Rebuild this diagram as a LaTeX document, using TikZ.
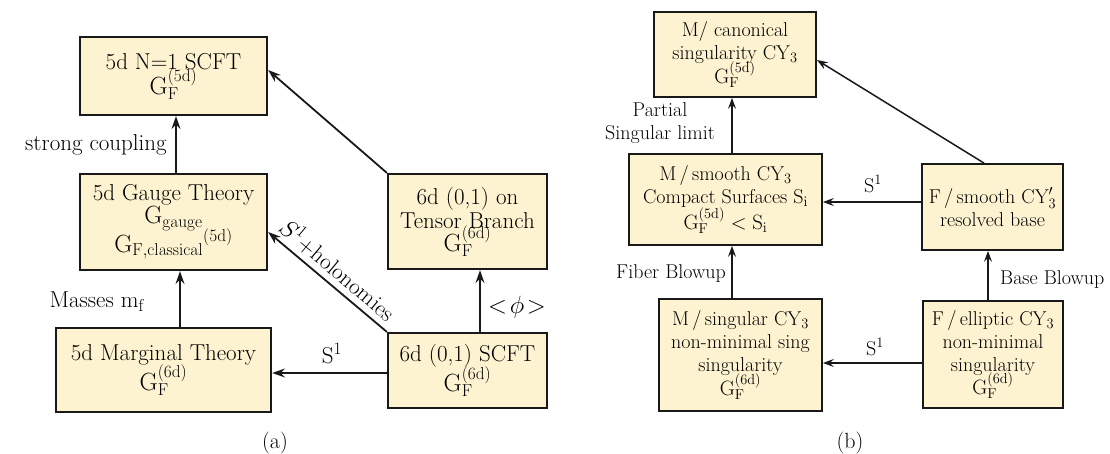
\documentclass[tikz,border=0pt]{standalone}
\usetikzlibrary{arrows.meta}
\definecolor{boxfill}{RGB}{253,243,208}
\definecolor{edge}{RGB}{25,25,25}
\newcommand{\GF}[1]{\mathrm{G}_\mathrm{F}^{(\mathrm{#1})}}
\begin{document}
\begin{tikzpicture}[x=1pt,y=-1pt,
  boxa/.style={draw=edge, line width=2.2pt, fill=boxfill, align=center, inner sep=0pt, font=\fontsize{23}{26}\selectfont},
  boxb/.style={draw=edge, line width=1.8pt, fill=boxfill, align=center, inner sep=0pt, font=\fontsize{20}{23}\selectfont},
  arra/.style={draw=edge, line width=1.8pt, -{Stealth[length=13pt,width=9pt,inset=4.5pt]}},
  arrb/.style={draw=edge, line width=1.5pt, -{Stealth[length=11pt,width=8pt,inset=4pt]}},
  laba/.style={font=\fontsize{23}{26}\selectfont, inner sep=0pt},
  labb/.style={font=\fontsize{20}{23}\selectfont, inner sep=0pt, align=center},
  capt/.style={font=\fontsize{22}{24}\selectfont, inner sep=0pt}
]
\useasboundingbox (0,0) rectangle (1110,454);

% ---------- panel (a) ----------
\node[boxa, minimum width=187pt, minimum height=78pt] (scft5) at (173.5,76)
  {5d N=1 SCFT\\[-2pt]$\GF{5d}$};
\node[boxa, minimum width=187pt, minimum height=96pt] (gauge) at (173.5,222)
  {5d Gauge Theory\\[-3pt]$\mathrm{G}_\mathrm{gauge}$\\[-3pt]${\mathrm{G}_\mathrm{F,classical}}^{(\mathrm{5d})}$};
\node[boxa, minimum width=215pt, minimum height=84pt] (marg) at (163.5,370)
  {5d Marginal Theory\\[-2pt]$\GF{6d}$};
\node[boxa, minimum width=159pt, minimum height=95pt] (tensor) at (467.5,221.5)
  {6d (0,1) on\\[-2pt]Tensor Branch\\[-4pt]$\GF{6d}$};
\node[boxa, minimum width=159pt, minimum height=75pt] (scft6) at (467.5,370.5)
  {6d (0,1) SCFT\\[-2pt]$\GF{6d}$};

\draw[arra] ([xshift=2.5pt]gauge.north) -- ([xshift=2.5pt]gauge.north |- scft5.south);
\draw[arra] ([xshift=6.5pt]gauge.south |- marg.north) -- ([xshift=6.5pt]gauge.south);
\draw[arra] ([xshift=12.5pt]scft6.north) -- ([xshift=12.5pt]scft6.north |- tensor.south);
\draw[arra] ([yshift=-2.5pt]scft6.west) -- ([yshift=-2.5pt]scft6.west -| marg.east);
\draw[arra] (scft6.north west) -- node[pos=0.5, rotate=-40, anchor=south, laba, inner sep=5pt] (lhol) {$S^1$+holonomies} ([yshift=-10pt]gauge.east);
\draw[arra] (tensor.north west) -- ([yshift=6pt]scft5.east);

\node[laba, anchor=east] (lsc) at (167,145) {strong coupling};
\node[laba, anchor=east] (lms) at (145,302) {Masses m$_\mathrm{f}$};
\node[laba] (ls1a) at (332,354) {S$^1$};
\node[laba] (lphi) at (517,307) {$<\!\phi\!>$};

\node[capt] (capa) at (275,443) {(a)};

% ---------- panel (b) ----------
\node[boxb, minimum width=162pt, minimum height=85pt] (canon) at (735,54.5)
  {M/ canonical\\singularity CY$_3$\\[-2pt]$\GF{5d}$};
\node[boxb, minimum width=193pt, minimum height=91pt] (smooth) at (725.5,199.5)
  {M\,/\,smooth CY$_3$\\Compact Surfaces S$_\mathrm{i}$\\[-1pt]$\GF{5d}<\mathrm{S_i}$};
\node[boxb, minimum width=141pt, minimum height=86pt] (fsmooth) at (992.5,207)
  {F\,/\,smooth CY$_3'$\\resolved base};
\node[boxb, minimum width=163pt, minimum height=112pt] (msing) at (740.5,355)
  {M\,/\,singular CY$_3$\\non-minimal sing\\singularity\\[-3pt]$\GF{6d}$};
\node[boxb, minimum width=140pt, minimum height=107pt] (fell) at (993,354.5)
  {F\,/\,elliptic CY$_3$\\non-minimal\\singularity\\[-3pt]$\GF{6d}$};

\draw[arrb] ([xshift=6.5pt]smooth.north) -- ([xshift=6.5pt]smooth.north |- canon.south);
\draw[arrb] ([xshift=-8.5pt]msing.north) -- ([xshift=-8.5pt]msing.north |- smooth.south);
\draw[arrb] ([yshift=5pt]fsmooth.west) -- ([yshift=5pt]fsmooth.west -| smooth.east);
\draw[arrb] ([xshift=-5pt]fell.north) -- ([xshift=-5pt]fell.north |- fsmooth.south);
\draw[arrb] ([yshift=-8.5pt]fell.west) -- ([yshift=-8.5pt]fell.west -| msing.east);
\draw[arrb] ([xshift=-8.5pt]fsmooth.north) -- ([yshift=-5.5pt]canon.east);

\node[labb] (lpar) at (660,123) {Partial\\Singular limit};
\node[labb, anchor=east] (lfib) at (726,274) {Fiber Blowup};
\node[labb, anchor=west] (lbas) at (1000,280) {Base Blowup};
\node[labb] (ls1b) at (873,184) {S$^1$};
\node[labb] (ls1c) at (875,347) {S$^1$};

\node[capt] (capb) at (850,443) {(b)};
\end{tikzpicture}
\end{document}
